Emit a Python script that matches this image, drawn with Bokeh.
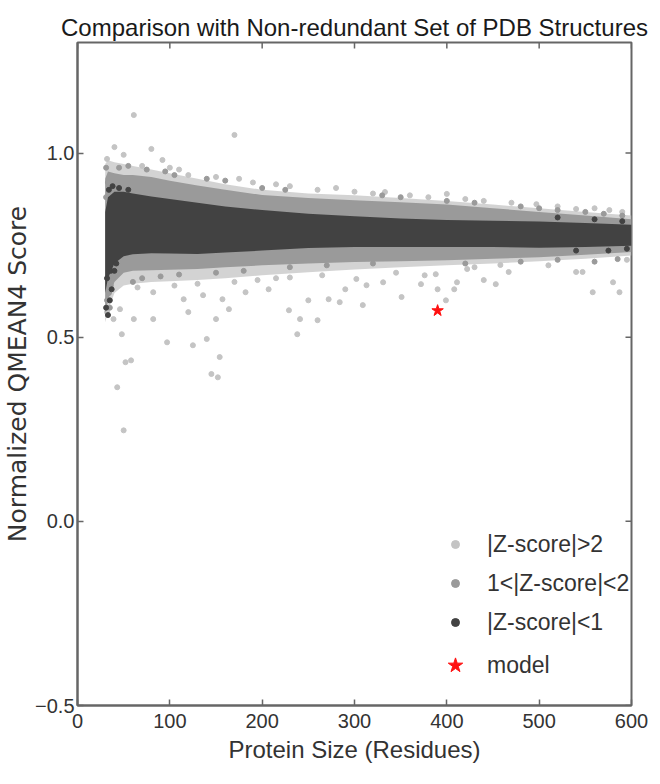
import math
from bokeh.plotting import figure
from bokeh.models import Range1d, Legend, LegendItem, FixedTicker
from bokeh.embed import file_html
from bokeh.resources import INLINE

# ---------------- data ----------------
title_text = "Comparison with Non-redundant Set of PDB Structures"
x_ticks = [0, 100, 200, 300, 400, 500, 600]
y_ticks = [-0.5, 0.0, 0.5, 1.0]
y_tick_labels = ["\u22120.5", "0.0", "0.5", "1.0"]
series_labels = ["|Z-score|>2", "1<|Z-score|<2", "|Z-score|<1", "model"]

# envelopes of the dense point cloud
band_x = [30, 33, 40, 50, 60, 80, 100, 130, 160, 200, 250, 300, 350, 400, 450, 500, 550, 600]
light_upper = [0.97, 0.98, 0.975, 0.97, 0.965, 0.955, 0.945, 0.93, 0.915, 0.90, 0.89, 0.885, 0.878, 0.87, 0.86, 0.85, 0.84, 0.83]
light_lower = [0.54, 0.57, 0.62, 0.64, 0.645, 0.65, 0.652, 0.655, 0.66, 0.668, 0.676, 0.684, 0.69, 0.695, 0.70, 0.706, 0.713, 0.722]
mid_upper = [0.93, 0.95, 0.945, 0.94, 0.94, 0.935, 0.925, 0.912, 0.90, 0.886, 0.878, 0.872, 0.866, 0.86, 0.85, 0.84, 0.83, 0.82]
mid_lower = [0.56, 0.60, 0.65, 0.675, 0.68, 0.682, 0.683, 0.685, 0.69, 0.695, 0.70, 0.704, 0.706, 0.709, 0.713, 0.717, 0.724, 0.731]
dark_upper = [0.84, 0.88, 0.895, 0.895, 0.89, 0.882, 0.875, 0.865, 0.855, 0.845, 0.835, 0.828, 0.822, 0.818, 0.816, 0.814, 0.81, 0.805]
dark_lower = [0.62, 0.66, 0.70, 0.72, 0.725, 0.728, 0.727, 0.726, 0.73, 0.735, 0.742, 0.745, 0.745, 0.745, 0.745, 0.743, 0.745, 0.748]

# isolated points
light_x = [61, 170, 40, 80, 92, 32, 32, 39, 48, 61, 82, 97, 125, 140, 52, 145, 164, 150, 120, 229,
           238, 241, 260, 250, 46, 82, 115, 136, 157, 182, 207, 333, 400, 497, 540, 576, 284, 309, 351, 399,
           390, 372, 408, 411, 440, 453, 467, 558, 587, 580, 540, 547, 313, 331, 302, 290, 272, 388, 376, 422,
           458, 43, 50, 58, 152, 154, 50, 70, 100, 110, 120, 150, 175, 190, 215, 230, 260, 280, 300, 320,
           360, 380, 420, 440, 470, 520, 560, 590, 65, 105, 130, 170, 195, 215, 230, 265, 345, 430, 510, 595]
light_y = [1.103, 1.049, 1.016, 1.011, 0.981, 0.984, 0.568, 0.549, 0.508, 0.549, 0.549, 0.486, 0.478, 0.495, 0.432, 0.40, 0.576, 0.549, 0.568, 0.573,
           0.508, 0.549, 0.546, 0.60, 0.576, 0.622, 0.603, 0.614, 0.603, 0.622, 0.63, 0.894, 0.889, 0.861, 0.848, 0.845, 0.595, 0.587, 0.609, 0.60,
           0.63, 0.644, 0.63, 0.649, 0.655, 0.644, 0.677, 0.622, 0.622, 0.649, 0.677, 0.677, 0.641, 0.649, 0.658, 0.63, 0.603, 0.671, 0.668, 0.685,
           0.696, 0.364, 0.247, 0.437, 0.391, 0.446, 0.995, 0.965, 0.96, 0.955, 0.94, 0.935, 0.93, 0.92, 0.915, 0.91, 0.90, 0.905, 0.895, 0.89,
           0.885, 0.88, 0.875, 0.87, 0.865, 0.855, 0.85, 0.84, 0.635, 0.64, 0.645, 0.65, 0.655, 0.66, 0.662, 0.668, 0.675, 0.69, 0.695, 0.71]

mid_x = [31, 33, 31, 34, 32, 35, 36, 38, 45, 55, 75, 95, 105, 140, 160, 200, 225, 330, 350, 400,
         430, 480, 500, 520, 550, 570, 590, 60, 70, 90, 110, 150, 180, 230, 270, 320, 420, 480, 520, 560, 585]
mid_y = [0.96, 0.92, 0.88, 0.62, 0.60, 0.58, 0.64, 0.66, 0.96, 0.965, 0.955, 0.95, 0.94, 0.93, 0.925, 0.905, 0.90, 0.885, 0.88, 0.87,
         0.865, 0.855, 0.85, 0.845, 0.84, 0.835, 0.83, 0.65, 0.66, 0.665, 0.67, 0.675, 0.68, 0.69, 0.695, 0.70, 0.70, 0.705, 0.71, 0.705, 0.712]

dark_x = [31, 33, 35, 37, 32, 36, 40, 42, 34, 38, 45, 55, 520, 560, 590, 595, 575, 540]
dark_y = [0.58, 0.56, 0.60, 0.63, 0.66, 0.68, 0.68, 0.70, 0.90, 0.91, 0.905, 0.90, 0.825, 0.82, 0.815, 0.74, 0.735, 0.735]

model_x = [390]
model_y = [0.572]

# ---------------- styling ----------------
LIGHT = "#c4c4c4"
MID = "#9a9a9a"
DARK = "#424242"
RED = "#ff1010"
SANS = "Liberation Sans"
FRAME = "#666666"
TEXT = "#333333"

p = figure(width=652, height=774, x_range=Range1d(0, 600), y_range=Range1d(-0.5, 1.3),
           output_backend="svg", toolbar_location=None,
           min_border_left=72, min_border_right=21, min_border_top=42, min_border_bottom=69)
p.title.text = title_text
p.title.text_font = SANS
p.title.text_font_size = "24px"
p.title.text_font_style = "normal"
p.title.text_color = "#1a1a1a"
p.title.align = "center"
p.title.standoff = 4

p.grid.visible = False
p.outline_line_color = FRAME
p.outline_line_width = 2
p.background_fill_color = "white"
p.border_fill_color = "white"

p.varea(x=band_x, y1=light_lower, y2=light_upper, fill_color=LIGHT, fill_alpha=0.75)
r_light = p.scatter(light_x, light_y, size=5, color=LIGHT, line_color=LIGHT)
p.varea(x=band_x, y1=mid_lower, y2=mid_upper, fill_color=MID, fill_alpha=1.0)
r_mid = p.scatter(mid_x, mid_y, size=5, color=MID, line_color=MID)
p.varea(x=band_x, y1=dark_lower, y2=dark_upper, fill_color=DARK, fill_alpha=1.0)
r_dark = p.scatter(dark_x, dark_y, size=5, color=DARK, line_color=DARK)
r_model = p.scatter(model_x, model_y, marker="star", size=12, color=RED, line_color=RED)

# inward ticks on the top and right edges of the box
p.ray(x=x_ticks, y=p.y_range.end, length=6, length_units="screen", angle=-math.pi / 2,
      line_color=FRAME, line_width=1.5)
p.ray(x=p.x_range.end, y=y_ticks, length=6, length_units="screen", angle=math.pi,
      line_color=FRAME, line_width=1.5)

# axes
for ax in (p.xaxis[0], p.yaxis[0]):
    ax.axis_line_color = FRAME
    ax.axis_line_width = 2
    ax.major_tick_line_color = FRAME
    ax.major_tick_line_width = 1.5
    ax.major_tick_in = 6
    ax.major_tick_out = 0
    ax.minor_tick_line_color = None
    ax.major_label_text_font = SANS
    ax.major_label_text_font_size = "20px"
    ax.major_label_text_color = TEXT
    ax.axis_label_text_font_style = "normal"
    ax.axis_label_text_color = TEXT

p.xaxis.ticker = FixedTicker(ticks=x_ticks)
p.yaxis.ticker = FixedTicker(ticks=y_ticks)
p.yaxis.major_label_overrides = {t: l for t, l in zip(y_ticks, y_tick_labels)}
p.xaxis.major_label_standoff = 8
p.yaxis.major_label_standoff = 3
p.xaxis.axis_label = "Protein Size (Residues)"
p.xaxis.axis_label_text_font = SANS
p.xaxis.axis_label_text_font_size = "24px"
p.xaxis.axis_label_standoff = 5
p.yaxis.axis_label = "Normalized QMEAN4 Score"
p.yaxis.axis_label_text_font = "DejaVu Sans"
p.yaxis.axis_label_text_font_size = "25px"
p.yaxis.axis_label_standoff = 0

legend1 = Legend(items=[LegendItem(label=series_labels[0], renderers=[r_light]),
                        LegendItem(label=series_labels[1], renderers=[r_mid]),
                        LegendItem(label=series_labels[2], renderers=[r_dark])],
                 location=(358, 58), border_line_alpha=0, background_fill_alpha=0,
                 label_text_font=SANS, label_text_font_size="23px", label_text_color=TEXT,
                 glyph_width=20, glyph_height=30, label_height=30, spacing=9, padding=10,
                 label_standoff=22, margin=0)
legend2 = Legend(items=[LegendItem(label=series_labels[3], renderers=[r_model])],
                 location=(349, 11), border_line_alpha=0, background_fill_alpha=0,
                 label_text_font=SANS, label_text_font_size="23px", label_text_color=TEXT,
                 glyph_width=38, glyph_height=38, label_height=30, spacing=0, padding=10,
                 label_standoff=13, margin=0)
p.add_layout(legend1)
p.add_layout(legend2)

open("out.html", "w").write(file_html(p, INLINE))
